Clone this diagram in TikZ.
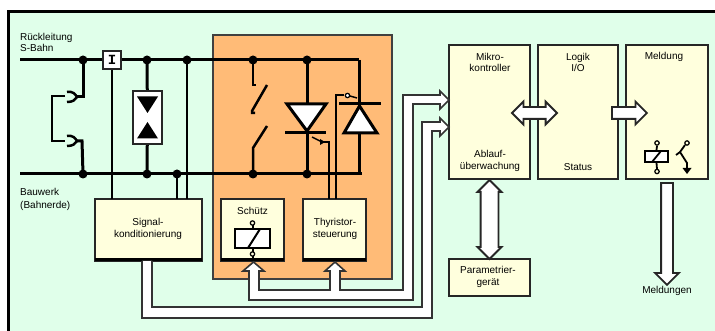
\documentclass[tikz,border=0pt]{standalone}
\usepackage{fontspec}
\setmainfont{Liberation Sans}
\setmonofont{Liberation Mono}
\usetikzlibrary{calc,shapes.arrows}
\definecolor{panelgreen}{HTML}{E0FFEA}
\definecolor{cabinorange}{HTML}{FFBB77}
\definecolor{blockyellow}{HTML}{FFFFDD}
\tikzset{
	block/.style={draw=black!85, line width=1.8pt, fill=blockyellow, inner sep=0pt, outer sep=0pt, align=center},
	lbl/.style={inner sep=0pt, align=center, font=\fontsize{10}{11.8}\selectfont},
	rail/.style={line width=3pt},
	wire/.style={line width=2pt},
	dot/.style={fill=black, draw=none},
	band/.style={draw=black!80, line width=1.6pt, fill=white},
	bigdouble/.style={double arrow, draw=black!85, fill=white, line width=1.8pt, inner xsep=0pt, outer sep=0pt},
	bigsingle/.style={single arrow, draw=black!85, fill=white, line width=1.8pt, inner xsep=0pt, outer sep=0pt},
	valve/.style={draw=black, fill=white, line width=3pt, line join=miter},
	relaybox/.style={draw=black, fill=white, line width=1.8pt}
}

\begin{document}
\begin{tikzpicture}[x=1pt, y=-1pt]
			%%%%% PANEL %%%%%
			\useasboundingbox (0, 0) rectangle (715, 331);
			\fill[white] (0, 0) rectangle (715, 331);
			\fill[panelgreen] (8.5, 12) rectangle (715, 331);
			\draw[line width=3pt] (715, 12) -- (8.5, 12) -- (8.5, 331);
			\filldraw[fill=cabinorange, draw=black!75, line width=1.5pt] (213, 35) rectangle (392, 279);
			
			%%%%% BLOCKS %%%%%
			\node[block, minimum width=107pt, minimum height=62pt] (signal) at (148.5, 230) {};
			\node[block, minimum width=63pt, minimum height=62pt] (schuetz) at (252.5, 230) {};
			\node[block, minimum width=63pt, minimum height=62pt] (thyristor) at (334.5, 230) {};
			\node[block, minimum width=81pt, minimum height=134pt] (mikro) at (489.5, 112) {};
			\node[block, minimum width=80pt, minimum height=134pt] (logik) at (578, 112) {};
			\node[block, minimum width=82pt, minimum height=134pt] (meldung) at (667, 112) {};
			\node[block, minimum width=81pt, minimum height=37pt] (param) at (489.5, 277.5) {};
			\foreach \blk in {signal, schuetz, thyristor}
				\draw[line width=3pt] ([yshift=1pt]\blk.south west) -- ([yshift=1pt]\blk.south east);
			
			%%%%% RAILS %%%%%
			\coordinate (topstart) at (20, 60);
			\coordinate (botstart) at (20, 174);
			\coordinate (topend) at (359, 60);
			\coordinate (botend) at (362, 174);
			\node[draw=black!85, fill=white, line width=1.8pt, minimum size=18pt, inner sep=0pt, font=\fontsize{14}{14}\ttfamily\bfseries] (shunt) at (112, 60) {I};
			\draw[rail] (topstart) -- (shunt);
			\draw[rail] (shunt) -- (topend);
			\draw[rail] (botstart) -- (botend);
			\foreach \x/\name in {83/ta, 147/tb, 187/tc, 253/td, 307/te}
				\coordinate (\name) at (\x, 60);
			\foreach \x/\name in {83/ba, 147/bb, 177/bc, 253/bd, 307/be}
				\coordinate (\name) at (\x, 174);
			\foreach \name in {ta, tb, tc, td, te, ba, bb, bc, bd, be}
				\fill[dot] (\name) circle (4.5pt);
			\draw[wire] (shunt) -- (shunt |- signal.north);
			\draw[wire] (bc) -- (bc |- signal.north);
			\draw[wire] (tc) -- (tc |- signal.north);
			
			%%%%% PLUG CONTACTS %%%%%
			\draw[rail] (ta) -- (83, 97) -- (76, 97);
			\draw[rail] (ba) -- (82, 141) -- (77, 141);
			\draw[line width=2.5pt] (65, 96) -- (52, 96) -- (52, 141) -- (65, 141);
			\draw[line width=2.5pt] (67, 92) .. controls (73, 91) and (75, 94) .. (77, 97) .. controls (75, 100) and (73, 102) .. (67, 102);
			\draw[line width=2.5pt] (67, 136) .. controls (73, 135) and (75, 138) .. (77, 141) .. controls (75, 144) and (73, 146) .. (67, 146);
			
			%%%%% SURGE ARRESTER %%%%%
			\node[draw=black!85, fill=white, line width=1.8pt, minimum width=29pt, minimum height=53pt, inner sep=0pt, outer sep=0pt] (arrester) at (147.5, 117.5) {};
			\draw[rail] (tb) -- (arrester);
			\draw[rail] (bb) -- (arrester);
			\node[draw=black!85, fill=white, line width=1.8pt, minimum width=29pt, minimum height=53pt, inner sep=0pt, outer sep=0pt] at (147.5, 117.5) {};
			\fill[black] (137, 96.5) -- (158, 96.5) -- (147.5, 113) -- cycle;
			\fill[black] (137, 138.5) -- (158, 138.5) -- (147.5, 122) -- cycle;
			
			%%%%% SWITCH %%%%%
			\draw[line width=2.5pt] (td) -- (253, 85) -- (256, 85);
			\draw[line width=2.5pt] (267, 85) -- (252, 111) -- (252, 113) -- (255, 113);
			\draw[line width=2.5pt] (267, 126) -- (253, 148) -- (bd);
			
			%%%%% THYRISTORS %%%%%
			\draw[rail] (te) -- (bd -| te);
			\draw[valve] (287, 104) -- (326, 104) -- (307, 131) -- cycle;
			\draw[rail] (285, 133) -- (326, 133);
			\draw[rail] (topend) -- (359, 174);
			\draw[valve] (344, 133) -- (377, 133) -- (359.5, 106) -- cycle;
			\draw[rail] (339, 104) -- (381, 104);
			
			\coordinate (gateone) at (329, 142);
			\coordinate (gatetwo) at (336, 95);
			\draw[line width=1.5pt] (thyristor.north -| gateone) -- (gateone) -- (322, 142);
			\draw[line width=1.5pt] (322, 142) -- (312, 137);
			\fill[black] (320, 139) -- (325, 142) -- (320, 145) -- cycle;
			\draw[line width=1.5pt] (thyristor.north -| gatetwo) -- (gatetwo) -- (344, 95);
			\draw[line width=1.2pt, fill=white] (347.5, 95.5) circle (2.2pt);
			\draw[line width=1.5pt] (350, 96) -- (357, 98);
			
			%%%%% RELAYS %%%%%
			\node[lbl] (schuetzlbl) at (252.5, 211) {Schütz};
			\node[relaybox, minimum width=35pt, minimum height=19pt, inner sep=0pt] (coil) at (252.5, 238.5) {};
			\draw[line width=2pt] (260, 229) -- (248, 248);
			\draw[line width=2pt] (coil.north) -- (252.5, 225);
			\draw[line width=2pt] (coil.south) -- (schuetz.south);
			\draw[line width=1.2pt, fill=blockyellow] (252.5, 223) circle (2.2pt);
			\draw[line width=1.2pt, fill=blockyellow] (252.5, 254) circle (2.2pt);
			
			\node[relaybox, minimum width=23pt, minimum height=11pt, inner sep=0pt] (signalcoil) at (656.5, 156.5) {};
			\draw[line width=1.8pt] (661, 151) -- (652, 162);
			\draw[line width=1.8pt] (signalcoil.north) -- (657, 146);
			\draw[line width=1.8pt] (signalcoil.south) -- (657, 169);
			\draw[line width=1.2pt, fill=blockyellow] (657, 143) circle (2.2pt);
			\draw[line width=1.2pt, fill=blockyellow] (657, 171.5) circle (2.2pt);
			\draw[line width=1.2pt, fill=blockyellow] (687, 143) circle (2.2pt);
			\draw[line width=1.8pt] (685, 145) -- (680, 152) -- (676, 155);
			\draw[line width=1.8pt] (680, 152) -- (687, 163) -- (687, 170);
			\fill[black] (682.5, 168) -- (691.5, 168) -- (687, 174) -- cycle;
			
			%%%%% WIDE ARROWS %%%%%
			\draw[band] (142, 261) -- (142, 318) -- (432, 318) -- (432, 131) -- (440, 131) -- (440, 136) -- (449, 127) -- (440, 118) -- (440, 122) -- (422, 122) -- (422, 307) -- (152, 307) -- (152, 261);
			\draw[band] (253.5, 262) -- (264, 271) -- (259, 271) -- (259, 290) -- (330, 290) -- (330, 271) -- (325, 271) -- (335, 262) -- (345, 271) -- (340, 271) -- (340, 290) -- (403, 290) -- (403, 95) -- (440, 95) -- (440, 91) -- (449, 100) -- (440, 109) -- (440, 104) -- (413, 104) -- (413, 300) -- (249, 300) -- (249, 271) -- (243, 271) -- cycle;
			\node[bigdouble, inner ysep=5pt, minimum height=45pt, double arrow head extend=5.5pt] (mikrologik) at (534.5, 113) {};
			\node[bigsingle, inner ysep=5pt, minimum height=35pt, single arrow head extend=5.5pt] (logikmeldung) at (626.5, 113) {};
			\node[bigdouble, rotate=90, inner ysep=8pt, minimum height=79pt, double arrow head extend=3pt] (mikroparam) at (489.5, 219.5) {};
			\node[bigsingle, rotate=-90, inner ysep=5pt, minimum height=102pt, single arrow head extend=6pt] (meldungout) at (667, 231) {};
			
			%%%%% LABELS %%%%%
			\node[lbl, anchor=west, align=left] (rueck) at (20, 42.5) {Rückleitung\\S-Bahn};
			\node[lbl, anchor=west, align=left] (bau) at (20, 199.5) {Bauwerk\\[1.5pt](Bahnerde)};
			\node[lbl] (signallbl) at (148, 229) {Signal-\\konditionierung};
			\node[lbl] (thyristorlbl) at (335, 229) {Thyristor-\\steuerung};
			\node[lbl] (mikrolbl) at (490, 62.5) {Mikro-\\kontroller};
			\node[lbl] (ablauflbl) at (490, 161) {Ablauf-\\überwachung};
			\node[lbl] (logiklbl) at (578, 62.5) {Logik\\I/O};
			\node[lbl] (statuslbl) at (578, 167) {Status};
			\node[lbl] (meldunglbl) at (664, 57) {Meldung};
			\node[lbl] (paramlbl) at (488, 277) {Parametrier-\\gerät};
			\node[lbl] (meldungenlbl) at (667, 291) {Meldungen};
			
			%%%%% END %%%%%
\end{tikzpicture}
\end{document}
